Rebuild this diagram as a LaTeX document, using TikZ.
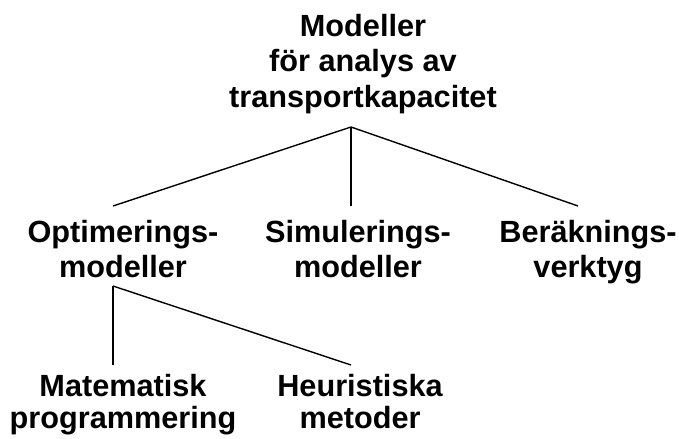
\documentclass[tikz,border=0pt]{standalone}
\usepackage{fontspec}
\setmainfont{Liberation Sans}
\begin{document}
\begin{tikzpicture}[x=0.75pt,y=-0.75pt,
  label/.style={align=center,anchor=base,inner sep=0pt,
    font=\fontsize{23}{26}\selectfont\bfseries},
  branch/.style={line width=1.05pt}]
\useasboundingbox (0,0) rectangle (679,439);
% labels, placed by the baseline of their last line
\node[label,font=\fontsize{23}{26.6}\selectfont\bfseries] (root) at (363,107) {Modeller\\för analys av\\transportkapacitet};
\node[label] (opt) at (123,277) {Optimerings-\\modeller};
\node[label] (sim) at (358,277) {Simulerings-\\modeller};
\node[label] (ber) at (588,277) {Beräknings-\\verktyg};
\node[label,font=\fontsize{23}{24}\selectfont\bfseries] (mat) at (123,428) {Matematisk\\programmering};
\node[label,font=\fontsize{23}{24}\selectfont\bfseries] (heu) at (360,428) {Heuristiska\\metoder};
% branch points
\coordinate (rootjoin) at (351,127);
\coordinate (opttop) at (113,206);
\coordinate (simtop) at (351,206);
\coordinate (bertop) at (578,206);
\coordinate (optjoin) at (113,286);
\coordinate (mattop) at (113,365);
\coordinate (heutop) at (351,365);
% tree
\draw[branch] (rootjoin) -- (opttop);
\draw[branch] (rootjoin) -- (simtop);
\draw[branch] (rootjoin) -- (bertop);
\draw[branch] (optjoin) -- (mattop);
\draw[branch] (optjoin) -- (heutop);
\end{tikzpicture}
\end{document}
